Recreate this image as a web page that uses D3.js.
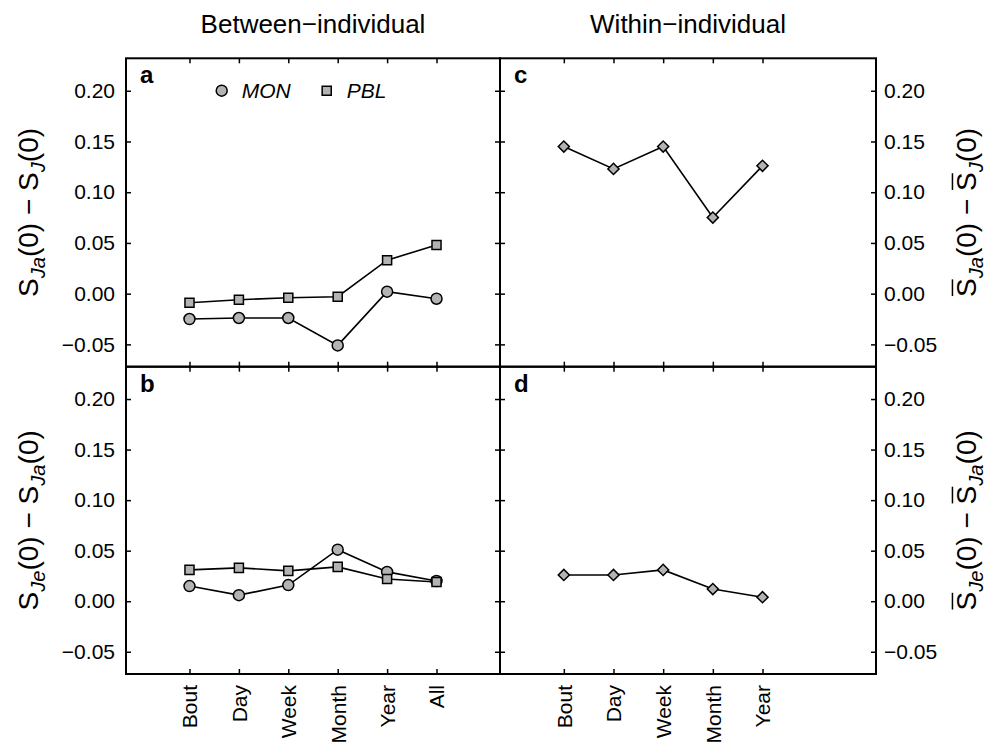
<!DOCTYPE html>
<html>
<head>
<meta charset="utf-8">
<script src="https://cdn.jsdelivr.net/npm/d3@7"></script>
<style>
  body { margin: 0; background: #fff; }
  svg { display: block; }
  text { font-family: "Liberation Sans", Arial, Helvetica, sans-serif; fill: #000; }
</style>
</head>
<body>
<script>
// time scales on the x axis
const timescales = ["Bout", "Day", "Week", "Month", "Year", "All"];
const withinScales = ["Bout", "Day", "Week", "Month", "Year"];
const yTicks = [-0.05, 0.00, 0.05, 0.10, 0.15, 0.20];

// panel a: S_Ja(0) - S_J(0), between-individual
const monA = [-0.025, -0.024, -0.024, -0.051, 0.002, -0.005];
const pblA = [-0.009, -0.006, -0.004, -0.003, 0.033, 0.048];
// panel b: S_Je(0) - S_Ja(0), between-individual
const monB = [0.015, 0.006, 0.016, 0.051, 0.029, 0.020];
const pblB = [0.031, 0.033, 0.030, 0.034, 0.022, 0.019];
// panels c and d: within-individual
const withinC = [0.145, 0.123, 0.145, 0.075, 0.126];
const withinD = [0.026, 0.026, 0.031, 0.012, 0.004];

const width = 989, height = 750;
const L = 126, M = 500, R = 876, T = 58.3, H = 366.7, B = 674;
const grey = "#b3b3b3";
const fmt = d3.format(".2f");

const svg = d3.select("body").append("svg")
    .attr("width", width)
    .attr("height", height);

const xLeft = d3.scalePoint().domain(timescales).range([L, M]).padding(1.285);
const xRight = xLeft.copy().range([M, R]);
const yTop = d3.scaleLinear().domain([-0.072, 0.232]).range([H, T]);
const yBot = yTop.copy().range([B, H]);

// strip d3's default axis styling
const plain = g => {
  g.select(".domain").remove();
  g.attr("font-size", 21).attr("font-family", null);
  g.selectAll(".tick line").attr("stroke", "#000").attr("stroke-width", 1.5);
  g.selectAll(".tick text").attr("fill", "#000");
};

function frame(x, y, cats, labelSide, bottomLabels) {
  const [x0, x1] = x.range(), [y1, y0] = y.range();
  const g = svg.append("g");

  // inward ticks on every side
  g.append("g").attr("transform", `translate(${x0},0)`)
      .call(d3.axisLeft(y).tickValues(yTicks).tickSize(-5).tickPadding(11)
        .tickFormat(labelSide === "left" ? fmt : ""))
      .call(plain);
  g.append("g").attr("transform", `translate(${x1},0)`)
      .call(d3.axisRight(y).tickValues(yTicks).tickSize(-5).tickPadding(8)
        .tickFormat(labelSide === "right" ? fmt : ""))
      .call(plain);
  g.append("g").attr("transform", `translate(0,${y0})`)
      .call(d3.axisTop(x).tickValues(cats).tickSize(-5).tickFormat(""))
      .call(plain);
  g.append("g").attr("transform", `translate(0,${y1})`)
      .call(d3.axisBottom(x).tickValues(cats).tickSize(-5).tickFormat(bottomLabels ? d => d : ""))
      .call(plain)
    .selectAll("text")
      .attr("transform", "rotate(-90)")
      .attr("text-anchor", "end")
      .attr("x", -11)
      .attr("y", 0)
      .attr("dy", "0.35em");

  g.append("rect")
      .attr("x", x0).attr("y", y0)
      .attr("width", x1 - x0).attr("height", y1 - y0)
      .attr("fill", "none").attr("stroke", "#000").attr("stroke-width", 2);
}

function series(x, y, cats, values, shape) {
  const pts = cats.map((c, i) => [x(c), y(values[i])]);
  svg.append("path")
      .attr("d", d3.line()(pts))
      .attr("fill", "none").attr("stroke", "#000").attr("stroke-width", 1.6);
  svg.append("g").selectAll("path")
    .data(pts)
    .join("path")
      .attr("transform", d => `translate(${d[0]},${d[1]})` + (shape === "diamond" ? " rotate(45)" : ""))
      .attr("d", shape === "circle"
        ? d3.symbol(d3.symbolCircle, 95)()
        : shape === "square" ? d3.symbol(d3.symbolSquare, 82)() : d3.symbol(d3.symbolSquare, 62)())
      .attr("fill", grey).attr("stroke", "#000").attr("stroke-width", 1.5);
}

frame(xLeft, yTop, timescales, "left", false);
frame(xLeft, yBot, timescales, "left", true);
frame(xRight, yTop, withinScales, "right", false);
frame(xRight, yBot, withinScales, "right", true);

series(xLeft, yTop, timescales, monA, "circle");
series(xLeft, yTop, timescales, pblA, "square");
series(xLeft, yBot, timescales, monB, "circle");
series(xLeft, yBot, timescales, pblB, "square");
series(xRight, yTop, withinScales, withinC, "diamond");
series(xRight, yBot, withinScales, withinD, "diamond");

// panel letters
[["a", L, T], ["b", L, H], ["c", M, T], ["d", M, H]].forEach(([t, x, y]) => {
  svg.append("text").attr("x", x + 14).attr("y", y + 25)
      .attr("font-size", 24).attr("font-weight", "bold").text(t);
});

// legend in panel a
const leg = svg.append("g").attr("font-size", 21).attr("font-style", "italic");
[["MON", "circle", 221.7], ["PBL", "square", 326.7]].forEach(([t, s, x]) => {
  leg.append("path")
      .attr("transform", `translate(${x},${T + 32.4})`)
      .attr("d", d3.symbol(s === "circle" ? d3.symbolCircle : d3.symbolSquare, s === "circle" ? 95 : 82)())
      .attr("fill", grey).attr("stroke", "#000").attr("stroke-width", 1.5);
  leg.append("text").attr("x", x + 20).attr("y", T + 39.5).text(t);
});

// column titles
svg.append("text").attr("x", (L + M) / 2).attr("y", 33)
    .attr("text-anchor", "middle").attr("font-size", 26).text("Between\u2212individual");
svg.append("text").attr("x", (M + R) / 2).attr("y", 33)
    .attr("text-anchor", "middle").attr("font-size", 26).text("Within\u2212individual");

// y axis titles: S_sub1(0) − S_sub2(0), with optional overbars on S
function ylab(x, y, sub1, sub2, bar) {
  const fs = 28;
  const g = svg.append("g").attr("transform", `translate(${x},${y}) rotate(-90)`);
  const t = g.append("text").attr("text-anchor", "middle").attr("font-size", fs);
  const parts = [["S", 0], [sub1, 1], ["(0) \u2212 S", 0], [sub2, 1], ["(0)", 0]];
  let shifted = false;
  parts.forEach(([s, sub]) => {
    const ts = t.append("tspan").text(s);
    if (sub) {
      ts.attr("font-size", fs * 0.72).attr("font-style", "italic").attr("dy", 7);
      shifted = true;
    } else if (shifted) {
      ts.attr("dy", -7);
      shifted = false;
    }
  });
  if (bar) {
    const node = t.node();
    [0, 1 + sub1.length + 6].forEach(i => {
      const e = node.getExtentOfChar(i);
      g.append("line")
          .attr("x1", e.x + 1).attr("x2", e.x + e.width - 1)
          .attr("y1", -fs * 0.716 - 3.5).attr("y2", -fs * 0.716 - 3.5)
          .attr("stroke", "#000").attr("stroke-width", 1.5);
    });
  }
}

ylab(38, (T + H) / 2, "Ja", "J", false);
ylab(38, (H + B) / 2, "Je", "Ja", false);
ylab(976, (T + H) / 2, "Ja", "J", true);
ylab(976, (H + B) / 2, "Je", "Ja", true);
</script>
</body>
</html>
